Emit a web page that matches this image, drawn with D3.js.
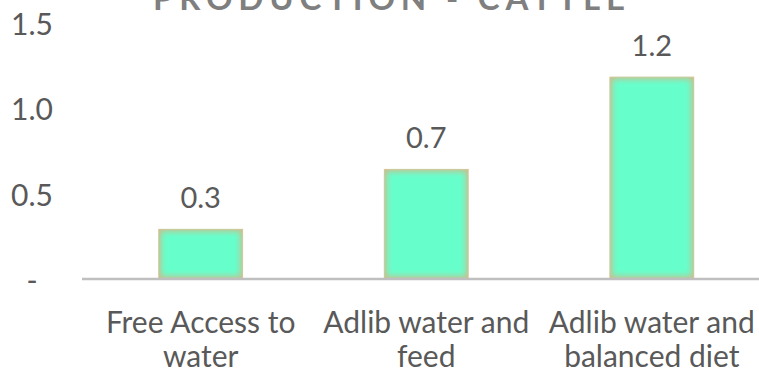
<!DOCTYPE html>
<html>
<head>
<meta charset="utf-8">
<script src="https://cdn.jsdelivr.net/npm/d3@7/dist/d3.min.js"></script>
<style>
  html, body { margin: 0; padding: 0; background: #ffffff; }
  svg { display: block; }
  text { font-family: Lato, "Open Sans", sans-serif; fill: #595959; }
</style>
</head>
<body>
<script>
// Production per cattle under three feeding regimes
const title = "PRODUCTION - CATTLE";
const categories = [["Free Access to", "water"], ["Adlib water and", "feed"], ["Adlib water and", "balanced diet"]];
const values = [0.30, 0.65, 1.19];
const yTicks = [0, 0.5, 1.0, 1.5];
const yTickLabels = ["-", "0.5", "1.0", "1.5"];

const W = 759, H = 371;
const svg = d3.select("body").append("svg").attr("width", W).attr("height", H);

const x = d3.scaleBand()
  .domain(d3.range(categories.length))
  .range([88, 764.5])
  .paddingInner(0.623)
  .paddingOuter(0.311);

const y = d3.scaleLinear().domain([0, 1.5]).range([280, 23.5]);

// inner glow for bars: khaki rim fading into mint
const defs = svg.append("defs");
const blur = defs.append("filter").attr("id", "soft")
  .attr("x", "-20%").attr("y", "-20%").attr("width", "140%").attr("height", "140%");
blur.append("feGaussianBlur").attr("stdDeviation", 3.2);

const base = y(0) - 1;
const bars = svg.append("g");
values.forEach((v, i) => {
  const bx = x(i), bw = x.bandwidth(), by = y(v), bh = base - y(v);
  defs.append("clipPath").attr("id", "clip" + i)
    .append("rect").attr("x", bx).attr("y", by).attr("width", bw).attr("height", bh);
  const g = bars.append("g").attr("clip-path", `url(#clip${i})`);
  g.append("rect").attr("x", bx).attr("y", by).attr("width", bw).attr("height", bh)
    .attr("fill", "#d2b98a");
  g.append("rect").attr("x", bx + 2.5).attr("y", by + 2.5)
    .attr("width", bw - 5).attr("height", Math.max(0, bh - 5))
    .attr("fill", "#66ffcc").attr("filter", "url(#soft)");
  g.append("rect").attr("x", bx + 0.5).attr("y", by + 0.5)
    .attr("width", bw - 1).attr("height", bh - 1)
    .attr("fill", "none").attr("stroke", "#f4cc9c").attr("stroke-opacity", 0.5).attr("stroke-width", 1);
});

// baseline
svg.append("line")
  .attr("x1", 82).attr("x2", W).attr("y1", base).attr("y2", base)
  .attr("stroke", "#bfbfbf").attr("stroke-width", 2.5);

// value axis, labels centred in the left margin
const yAxis = d3.axisLeft(y).tickValues(yTicks)
  .tickFormat((d, i) => yTickLabels[i]).tickSize(0).tickPadding(0);
const ya = svg.append("g").attr("transform", "translate(32,0)").call(yAxis);
ya.select(".domain").remove();
ya.selectAll("text")
  .attr("text-anchor", "middle")
  .attr("font-size", 30).attr("fill", "#595959")
  .attr("font-family", "Lato, 'Open Sans', sans-serif")
  .attr("dy", "0.36em");

// value labels
svg.append("g").selectAll("text").data(values).join("text")
  .attr("x", (d, i) => x(i) + x.bandwidth() / 2)
  .attr("y", d => y(d) - 20.5)
  .attr("text-anchor", "middle")
  .attr("font-size", 29)
  .text(d => d3.format(".1f")(d));

// category labels
const cat = svg.append("g").selectAll("text").data(categories).join("text")
  .attr("text-anchor", "middle")
  .attr("font-size", 30);
cat.each(function (lines, i) {
  const t = d3.select(this);
  lines.forEach((ln, k) => {
    t.append("tspan")
      .attr("x", x(i) + x.bandwidth() / 2)
      .attr("y", 333 + k * 34)
      .text(ln);
  });
});

// chart title, partly above the top edge
svg.append("text")
  .attr("x", 389).attr("y", 10)
  .attr("text-anchor", "middle")
  .attr("font-size", 33)
  .attr("font-weight", "bold")
  .attr("textLength", 472)
  .attr("lengthAdjust", "spacing")
  .style("fill", "#7f7f7f")
  .text(title);
</script>
</body>
</html>
